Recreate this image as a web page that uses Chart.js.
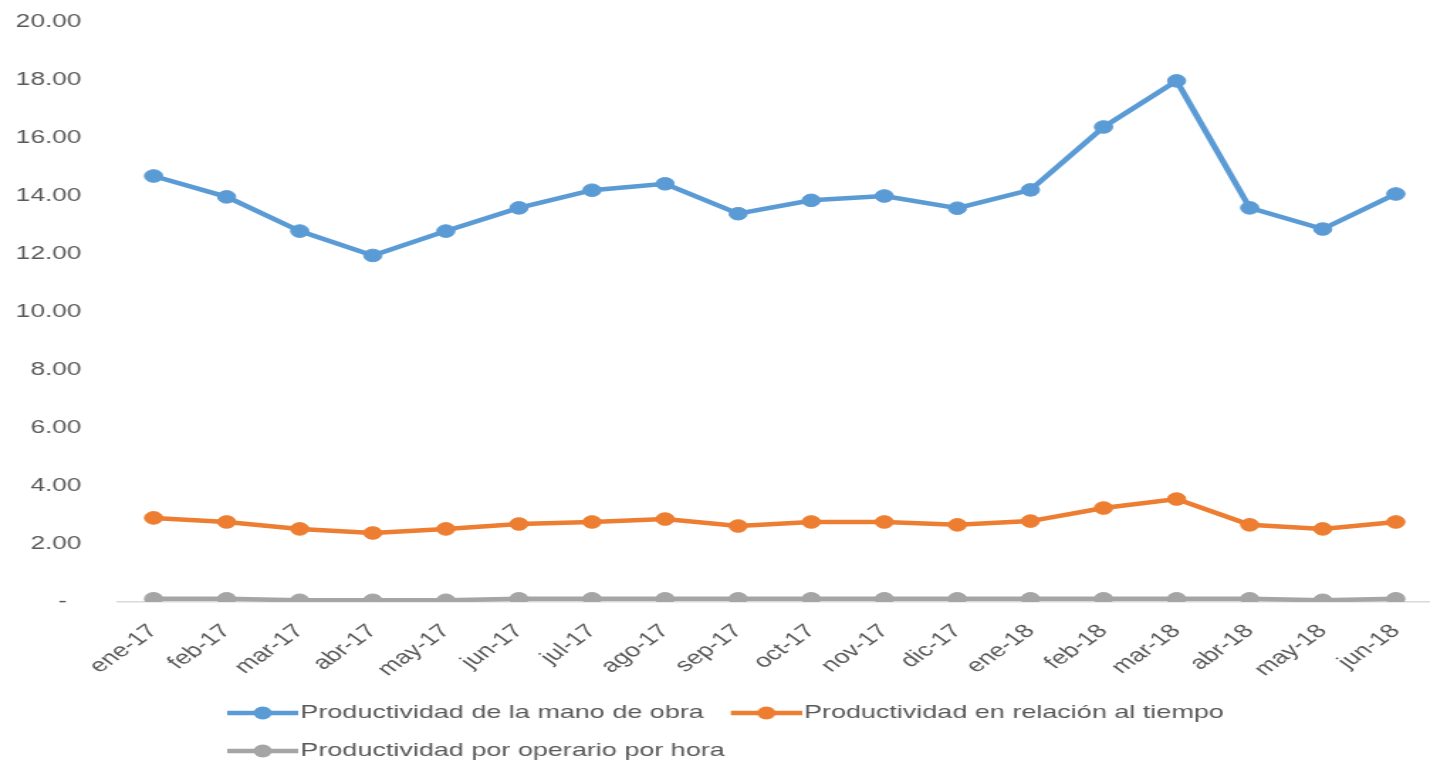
<!DOCTYPE html>
<html>
<head>
<meta charset="utf-8">
<script src="https://cdn.jsdelivr.net/npm/chart.js@4.4.1/dist/chart.umd.min.js"></script>
<style>
  html, body { margin: 0; padding: 0; background: #fff; overflow: hidden; width: 1430px; height: 764px; }
  #wrap { position: absolute; left: 0; top: 0; width: 1016px; height: 764px; transform: scaleX(1.42); transform-origin: 0 0; }
</style>
</head>
<body>
<div id="wrap"><canvas id="c"></canvas></div>
<script>
const categories = ['ene-17','feb-17','mar-17','abr-17','may-17','jun-17','jul-17','ago-17','sep-17','oct-17','nov-17','dic-17','ene-18','feb-18','mar-18','abr-18','may-18','jun-18'];
const manoDeObra = [14.69, 13.97, 12.79, 11.95, 12.79, 13.59, 14.20, 14.42, 13.39, 13.85, 14.00, 13.58, 14.21, 16.38, 17.97, 13.59, 12.86, 14.07];
const relacionTiempo = [2.90, 2.76, 2.52, 2.38, 2.52, 2.69, 2.76, 2.86, 2.62, 2.76, 2.76, 2.66, 2.79, 3.24, 3.55, 2.66, 2.52, 2.76];
const operarioHora = [0.11, 0.11, 0.06, 0.06, 0.06, 0.11, 0.11, 0.11, 0.11, 0.11, 0.11, 0.11, 0.11, 0.11, 0.11, 0.11, 0.06, 0.11];
const seriesNames = ['Productividad de la mano de obra', 'Productividad en relación al tiempo', 'Productividad por operario por hora'];
const seriesColors = ['#5B9BD5', '#ED7D31', '#A5A5A5'];
const yTicks = { min: 0, max: 20, step: 2 };

const FONT = "'Liberation Sans', Arial, sans-serif";
const TXT = '#595959';

function legendSymbol(color) {
  const c = document.createElement('canvas');
  c.width = 58; c.height = 14;
  const g = c.getContext('2d');
  g.strokeStyle = color; g.lineWidth = 4.5; g.lineCap = 'butt';
  g.beginPath(); g.moveTo(8, 7); g.lineTo(58, 7); g.stroke();
  g.fillStyle = color;
  g.beginPath(); g.arc(33, 7, 6.5, 0, Math.PI * 2); g.fill();
  return c;
}

const datasets = [manoDeObra, relacionTiempo, operarioHora].map((d, i) => ({
  label: seriesNames[i],
  data: d,
  borderColor: seriesColors[i],
  backgroundColor: seriesColors[i],
  pointBackgroundColor: seriesColors[i],
  pointBorderColor: seriesColors[i],
  borderWidth: 4.5,
  pointRadius: 6.3,
  pointBorderWidth: 1,
  pointHoverRadius: 6.3,
  tension: 0,
  fill: false,
  symbol: legendSymbol(seriesColors[i])
}));

const legendMover = {
  id: 'legendMover',
  afterLayout(chart) {
    const lg = chart.legend;
    if (!lg) return;
    const w = lg.width, h = lg.height;
    lg.left = 141; lg.right = 141 + w;
    lg.top = 684.5; lg.bottom = 684.5 + h;
  }
};

function noPad(scale) {
  scale.paddingTop = 0; scale.paddingBottom = 0;
  scale.paddingLeft = 0; scale.paddingRight = 0;
}

new Chart(document.getElementById('c'), {
  type: 'line',
  data: { labels: categories, datasets },
  plugins: [legendMover],
  options: {
    responsive: true,
    maintainAspectRatio: false,
    animation: false,
    layout: { padding: { top: 22, left: 0, right: 0, bottom: 0 } },
    plugins: {
      tooltip: { enabled: false },
      legend: {
        display: true,
        position: 'bottom',
        align: 'start',
        labels: {
          usePointStyle: true,
          pointStyleWidth: 42,
          padding: 19,
          color: TXT,
          font: { family: FONT, size: 19 },
          generateLabels(chart) {
            return chart.data.datasets.map((ds, i) => ({
              text: ds.label,
              fillStyle: ds.borderColor,
              strokeStyle: ds.borderColor,
              fontColor: TXT,
              lineWidth: 0,
              pointStyle: ds.symbol,
              hidden: false,
              datasetIndex: i
            }));
          }
        }
      }
    },
    scales: {
      x: {
        offset: true,
        grid: { display: false, drawTicks: false },
        border: { display: true, color: '#D9D9D9', width: 1.5 },
        ticks: {
          color: TXT,
          font: { family: FONT, size: 19 },
          minRotation: 45,
          maxRotation: 45,
          padding: 18,
          autoSkip: false
        },
        afterFit(scale) { scale.height = 76; noPad(scale); }
      },
      y: {
        min: yTicks.min,
        max: yTicks.max,
        grid: { display: false, drawTicks: false },
        border: { display: false },
        ticks: {
          stepSize: yTicks.step,
          color: TXT,
          font: { family: FONT, size: 18.5 },
          padding: 25,
          callback(v) { return v === 0 ? '-  ' : Number(v).toFixed(2); }
        },
        afterFit(scale) { scale.width = 82.4; noPad(scale); }
      }
    }
  }
});
</script>
</body>
</html>
